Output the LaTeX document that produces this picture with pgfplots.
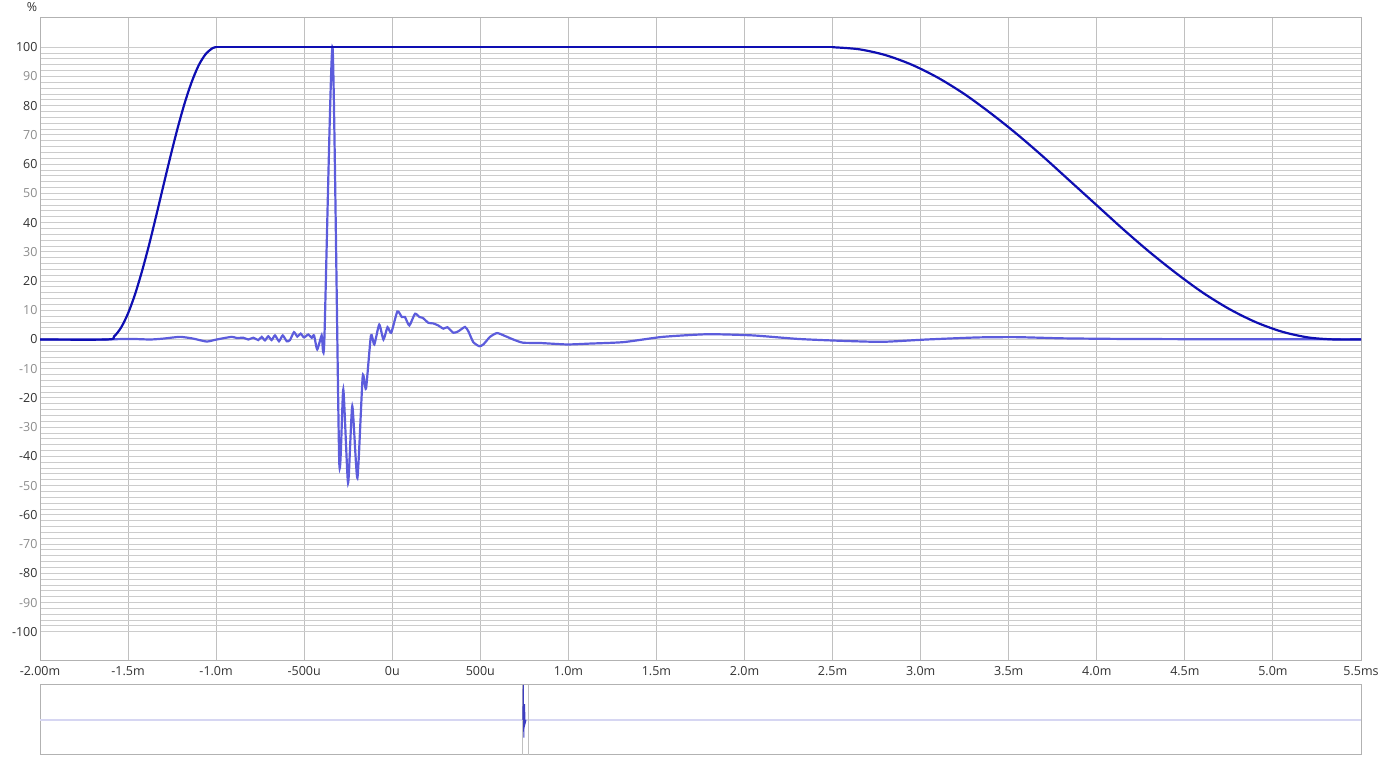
\documentclass[border=0pt]{standalone}
\usepackage{pgfplots}
\pgfplotsset{compat=1.18}
\usepackage{fontspec}
\setmainfont{Open Sans}
\definecolor{win}{RGB}{14,14,178}
\definecolor{imp}{RGB}{92,92,220}
\definecolor{majgrid}{RGB}{192,192,192}
\definecolor{hgrid}{RGB}{204,204,204}
\definecolor{mingrid}{RGB}{232,232,232}
\definecolor{frame}{RGB}{178,178,178}
\definecolor{dk}{RGB}{50,50,50}
\definecolor{lt}{RGB}{140,140,140}
\definecolor{lav}{RGB}{214,214,242}
\begin{document}
\begin{tikzpicture}
\useasboundingbox (0,0) rectangle (1381pt,759pt);
\begin{axis}[
  at={(40pt,98pt)}, anchor=south west, scale only axis,
  width=1321pt, height=643pt,
  xmin=-2, xmax=5.5, ymin=-110, ymax=110,
  xtick={-2,-1.5,-1,-0.5,0,0.5,1,1.5,2,2.5,3,3.5,4,4.5,5,5.5},
  xticklabels={-2.00m,-1.5m,-1.0m,-500u,0u,500u,1.0m,1.5m,2.0m,2.5m,3.0m,3.5m,4.0m,4.5m,5.0m,5.5ms},
  ytick={-100,-90,-80,-70,-60,-50,-40,-30,-20,-10,0,10,20,30,40,50,60,70,80,90,100},
  yticklabels={{\color{dk}-100},{\color{lt}-90},{\color{dk}-80},{\color{lt}-70},{\color{dk}-60},{\color{lt}-50},{\color{dk}-40},{\color{lt}-30},{\color{dk}-20},{\color{lt}-10},{\color{dk}0},{\color{lt}10},{\color{dk}20},{\color{lt}30},{\color{dk}40},{\color{lt}50},{\color{dk}60},{\color{lt}70},{\color{dk}80},{\color{lt}90},{\color{dk}100}},
  minor y tick num=4,
  xmajorgrids, ymajorgrids, yminorgrids,
  x grid style={majgrid, line width=1pt},
  major grid style={line width=1pt},
  minor grid style={mingrid, line width=0.9pt},
  y grid style={hgrid},
  major tick length=0pt, minor tick length=0pt,
  axis line style={frame, line width=1pt},
  tick label style={font=\fontsize{12.5}{14}\selectfont},
  xticklabel style={dk, yshift=-2pt},
  yticklabel style={xshift=1pt},
  clip=true,
]
\addplot[imp, line width=2.2pt, smooth, tension=0.35] coordinates {
(-2.000,0) (-1.659,0) (-1.489,0.2) (-1.375,0) (-1.300,0.3) (-1.205,0.9) (-1.130,0.3)
(-1.054,-0.7) (-0.997,0) (-0.912,0.9) (-0.883,0.5) (-0.846,0.6) (-0.817,0)
(-0.789,0.6) (-0.761,-0.2) (-0.741,0.9) (-0.723,-0.3) (-0.704,1.1) (-0.685,-0.2)
(-0.666,1.4) (-0.643,-0.6) (-0.622,1.4) (-0.599,-0.6) (-0.581,-0.2) (-0.558,2.5)
(-0.539,1.0) (-0.520,2.0) (-0.501,0.7) (-0.477,1.7) (-0.457,0.6) (-0.444,1.4)
(-0.426,-3.4) (-0.401,1.4) (-0.386,-0.9) (-0.339,100) (-0.301,-41.9) (-0.278,-17.1)
(-0.251,-49.1) (-0.227,-22.8) (-0.198,-47.4) (-0.168,-12.7) (-0.149,-16.8)
(-0.121,1.4) (-0.102,-1.7) (-0.074,5.1) (-0.050,0) (-0.027,4.2) (-0.006,2.3)
(0.029,9.6) (0.054,7.7) (0.072,7.7) (0.097,4.8) (0.129,8.8) (0.154,7.7) (0.173,7.4)
(0.205,5.7) (0.233,5.5) (0.261,4.8) (0.290,3.7) (0.313,4.2) (0.347,2.3) (0.375,2.8)
(0.413,4.3) (0.432,2.8) (0.460,-0.9) (0.494,-2.3) (0.517,-1.7) (0.555,0.9)
(0.595,2.2) (0.640,1.2) (0.687,0.0) (0.742,-1.1) (0.839,-1.2) (0.992,-1.7)
(1.123,-1.4) (1.313,-0.9) (1.536,0.9) (1.791,1.8) (2.046,1.4) (2.301,0.2)
(2.525,-0.4) (2.780,-0.8) (3.035,0) (3.322,0.7) (3.545,0.8) (3.801,0.4)
(4.119,0.2) (4.586,0.1) (5.500,0.1)
};
\addplot[win, line width=2.2pt, smooth, tension=0.5] coordinates {
(-2,0) (-1.62,0) (-1.58,1.02) (-1.54,4.05) (-1.50,8.96) (-1.46,15.55) (-1.42,23.56)
(-1.38,32.57) (-1.34,42.4) (-1.30,52.5) (-1.26,62.5) (-1.22,72.0) (-1.18,80.6)
(-1.14,87.9) (-1.10,93.7) (-1.06,97.6) (-1.02,99.7) (-1.00,100)
};
\addplot[win, line width=2.2pt] coordinates {(-1.00,100) (2.5,100)};
\addplot[win, line width=2.2pt, smooth, tension=0.5] coordinates {
(2.5,100) (2.65,99.3) (2.80,97.3) (2.95,94.0) (3.10,89.5) (3.25,83.9) (3.40,77.3) (3.55,70.1)
(3.70,62.3) (3.85,54.1) (4.00,45.9) (4.15,37.7) (4.30,29.9) (4.45,22.7) (4.60,16.1)
(4.75,10.5) (4.90,6.0) (5.05,2.7) (5.20,0.7) (5.35,0) (5.5,0)
};
\end{axis}
\node[anchor=center, text=dk, font=\fontsize{12.5}{14}\selectfont] at (32pt,752pt) {\%};
\begin{axis}[
  at={(40pt,4pt)}, anchor=south west, scale only axis,
  width=1321pt, height=70pt,
  xmin=0, xmax=1321, ymin=-1, ymax=1,
  ticks=none,
  axis line style={frame, line width=1pt},
]
\addplot[lav, line width=2pt] coordinates {(0,0) (1321,0)};
\addplot[majgrid, line width=1pt] coordinates {(482.3,-1) (482.3,1)};
\addplot[majgrid, line width=1pt] coordinates {(488.3,-1) (488.3,1)};
\addplot[win!80!white, line width=1pt] coordinates {(482.8,0) (483.3,1) (483.8,-0.5) (484.5,0.45) (485.1,-0.1) (486,0)};
\end{axis}
\end{tikzpicture}
\end{document}
